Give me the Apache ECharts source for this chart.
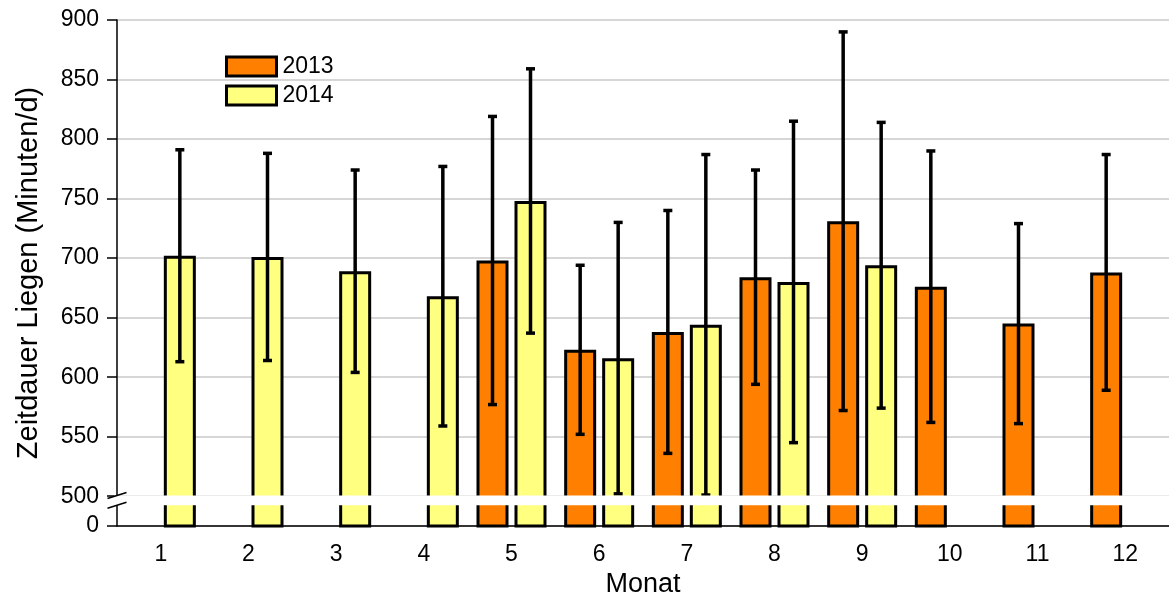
<!DOCTYPE html>
<html>
<head>
<meta charset="utf-8">
<script src="https://cdn.jsdelivr.net/npm/echarts@6/dist/echarts.min.js"></script>
<style>
html,body{margin:0;padding:0;background:#fff;}
#chart{width:1169px;height:595px;}
</style>
</head>
<body>
<div id="chart"></div>
<script>
// ---- data ----
const months = ['1','2','3','4','5','6','7','8','9','10','11','12'];
const seriesNames = ['2013','2014'];
const mean2013 = [null, null, null, null, 698, 623, 638, 684, 731, 676, 645, 688];
const err2013  = [null, null, null, null, 121, 71, 102, 90, 159, 114, 84, 99];
const mean2014 = [702, 701, 689, 668, 748, 616, 644, 680, 694, null, null, null];
const err2014  = [89, 87, 85, 109, 111, 114, 143, 135, 120, null, null, null];
// y axis: values below the break; the "0" tick sits at the axis bottom
const axisBottom = 475;      // position of the "0" label (broken axis)
const axisTop = 900;
const yTickValues = [475, 500, 550, 600, 650, 700, 750, 800, 850, 900];
const breakBand = [492.4, 500.6];

// ---- styles ----
const FONT = '"Liberation Sans", Arial, sans-serif';
const colors = ['#FF8000', '#FFFF80'];
const BAR_W = 32, BAR_GAP = 6;

const errData = [];
[mean2013, mean2014].forEach((arr, s) => {
  const errs = s === 0 ? err2013 : err2014;
  arr.forEach((m, i) => {
    if (m != null) errData.push([i, m, errs[i], s]);
  });
});

const chart = echarts.init(document.getElementById('chart'), null, {renderer: 'canvas'});

const option = {
  animation: false,
  backgroundColor: '#fff',
  grid: {left: 117, right: 0, top: 20, bottom: 69, containLabel: false, outerBoundsMode: 'none'},
  legend: {
    data: seriesNames,
    orient: 'vertical',
    left: 225, top: 55,
    padding: 0,
    itemWidth: 50, itemHeight: 19, itemGap: 6,
    icon: 'rect',
    itemStyle: {borderColor: '#000', borderWidth: 3},
    textStyle: {fontFamily: FONT, fontSize: 23, color: '#000', padding: [0, 0, 0, 1]}
  },
  xAxis: {
    type: 'category',
    data: months,
    name: 'Monat',
    nameLocation: 'middle',
    nameGap: 39,
    nameTextStyle: {fontFamily: FONT, fontSize: 27, color: '#000'},
    axisLine: {lineStyle: {color: '#000', width: 1.5}},
    axisTick: {alignWithLabel: true, length: 8, lineStyle: {color: '#000', width: 1.5}},
    axisLabel: {fontFamily: FONT, fontSize: 23, color: '#000', margin: 17},
    splitLine: {show: false}
  },
  yAxis: {
    type: 'value',
    min: axisBottom, max: axisTop, interval: 25,
    name: 'Zeitdauer Liegen (Minuten/d)',
    nameLocation: 'middle',
    nameGap: 74,
    nameTextStyle: {fontFamily: FONT, fontSize: 29, color: '#000'},
    axisLine: {show: true, lineStyle: {color: '#000', width: 1.5}},
    axisTick: {show: true, length: 10, customValues: yTickValues, lineStyle: {color: '#000', width: 1.5}},
    axisLabel: {
      customValues: yTickValues,
      fontFamily: FONT, fontSize: 23, color: '#000', margin: 18,
      formatter: v => (v === axisBottom ? '0' : String(v))
    },
    splitLine: {show: true, lineStyle: {color: '#c8c8c8', width: 1.5}}
  },
  series: [
    {
      name: seriesNames[0], type: 'bar', data: mean2013,
      barWidth: BAR_W, barGap: (BAR_GAP / BAR_W * 100) + '%',
      itemStyle: {color: colors[0], borderColor: '#000', borderWidth: 3},
      z: 2
    },
    {
      name: seriesNames[1], type: 'bar', data: mean2014,
      barWidth: BAR_W, barGap: (BAR_GAP / BAR_W * 100) + '%',
      itemStyle: {color: colors[1], borderColor: '#000', borderWidth: 3},
      z: 2
    },
    {
      type: 'custom',
      data: errData,
      z: 5,
      silent: true,
      renderItem: function (params, api) {
        const cat = api.value(0), m = api.value(1), e = api.value(2), s = api.value(3);
        const off = (s === 0 ? -1 : 1) * (BAR_W + BAR_GAP) / 2;
        const top = api.coord([cat, m + e]);
        const bot = api.coord([cat, m - e]);
        const x = top[0] + off;
        const cap = 4.5;
        const st = {stroke: '#000', lineWidth: 3.5};
        return {
          type: 'group',
          children: [
            {type: 'line', shape: {x1: x, y1: top[1], x2: x, y2: bot[1]}, style: st},
            {type: 'line', shape: {x1: x - cap, y1: top[1], x2: x + cap, y2: top[1]}, style: st},
            {type: 'line', shape: {x1: x - cap, y1: bot[1], x2: x + cap, y2: bot[1]}, style: st}
          ]
        };
      }
    },
    {
      // white band of the axis break, positioned through the y scale
      type: 'custom',
      data: [[0, breakBand[0], breakBand[1]]],
      encode: {x: 0, y: [1, 2]},
      z: 10,
      silent: true,
      renderItem: function (params, api) {
        const yLo = api.coord([0, api.value(1)])[1];
        const yHi = api.coord([0, api.value(2)])[1];
        const cs = params.coordSys;
        return {
          type: 'rect',
          shape: {x: cs.x - 3, y: yHi, width: cs.width + 6, height: yLo - yHi},
          style: {fill: '#fff'}
        };
      }
    }
  ]
};
chart.setOption(option);

// break marks on the y axis
const gx = 117;
const yT = chart.convertToPixel({yAxisIndex: 0}, breakBand[1]);
const yB = chart.convertToPixel({yAxisIndex: 0}, breakBand[0]);
const mk = (y) => ({
  type: 'line', z: 100,
  shape: {x1: gx - 9.5, y1: y + 3, x2: gx + 9.5, y2: y - 3},
  style: {stroke: '#000', lineWidth: 1.5}
});
chart.setOption({graphic: [mk(yT), mk(yB)]});
</script>
</body>
</html>
